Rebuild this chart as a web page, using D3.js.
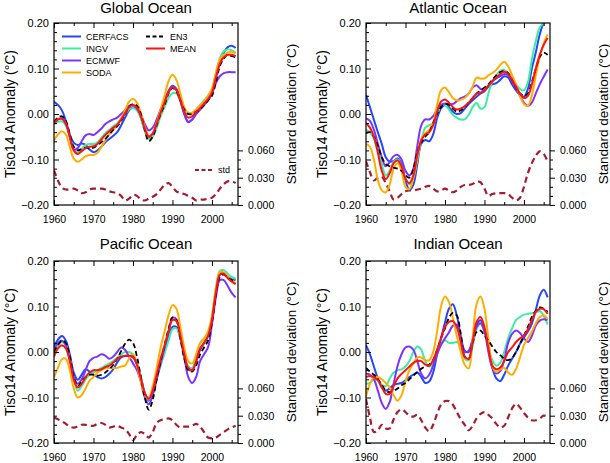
<!DOCTYPE html>
<html><head><meta charset="utf-8">
<script src="https://cdn.jsdelivr.net/npm/d3@7"></script>
<style>
body{margin:0;background:#fff}
svg{display:block}
text{font-family:"Liberation Sans",Arial,Helvetica,sans-serif;fill:#000}
</style>
</head><body><svg id="c" width="610" height="463"></svg>
<script>
// ---------------- DATA ----------------
const years = [1960,1961,1962,1963,1964,1965,1966,1967,1968,1969,1970,1971,1972,1973,1974,1975,1976,1977,1978,1979,
  1980,1981,1982,1983,1984,1985,1986,1987,1988,1989,1990,1991,1992,1993,1994,1995,1996,1997,1998,1999,
  2000,2001,2002,2003,2004,2005,2006];
const seriesNames = ["CERFACS","INGV","ECMWF","SODA","EN3","MEAN"];
const panelTitles = ["Global Ocean","Atlantic Ocean","Pacific Ocean","Indian Ocean"];
const anomalyTicks = [-0.2,-0.1,0.0,0.1,0.2];
const anomalyMinorTicks = [-0.18,-0.16,-0.14,-0.12,-0.08,-0.06,-0.04,-0.02,0.02,0.04,0.06,0.08,0.12,0.14,0.16,0.18];
const stdTicks = [0.0,0.03,0.06];
const stdMinorTicks = [0.01,0.02,0.04,0.05];
const yearTicks = [1960,1970,1980,1990,2000];
const yearMinorTicks = [1965,1975,1985,1995,2005];
const yLabel = "Tiso14 Anomaly (°C)";
const stdLabel = "Standard deviation (°C)";

// Global Ocean
const globalCERFACS = [0.027,0.02,0.008,-0.015,-0.045,-0.063,-0.068,-0.065,-0.068,-0.078,-0.084,-0.08,-0.072,-0.062,-0.055,-0.048,-0.04,-0.025,-0.008,0.008,
  0.015,0.01,-0.008,-0.035,-0.05,-0.043,-0.02,0.005,0.028,0.05,0.062,0.055,0.03,0.0,-0.017,-0.012,0.0,0.01,0.02,0.03,
  0.045,0.08,0.115,0.135,0.147,0.15,0.145];
const globalINGV = [-0.022,-0.017,-0.016,-0.025,-0.05,-0.078,-0.085,-0.077,-0.068,-0.066,-0.066,-0.062,-0.052,-0.042,-0.035,-0.027,-0.02,-0.01,0.0,0.01,
  0.013,0.008,-0.01,-0.038,-0.055,-0.05,-0.03,-0.005,0.015,0.035,0.046,0.045,0.028,0.01,0.0,0.002,0.01,0.02,0.03,0.04,
  0.055,0.09,0.122,0.138,0.142,0.14,0.135];
const globalECMWF = [-0.022,-0.012,-0.01,-0.022,-0.05,-0.078,-0.075,-0.06,-0.047,-0.044,-0.046,-0.04,-0.032,-0.022,-0.016,-0.012,-0.008,0.0,0.008,0.018,
  0.02,0.012,-0.002,-0.022,-0.036,-0.03,-0.012,0.01,0.03,0.05,0.06,0.055,0.03,0.0,-0.018,-0.012,0.0,0.01,0.02,0.03,
  0.045,0.068,0.083,0.09,0.092,0.092,0.092];
const globalSODA = [-0.058,-0.045,-0.038,-0.045,-0.072,-0.098,-0.105,-0.1,-0.093,-0.09,-0.09,-0.085,-0.072,-0.058,-0.045,-0.035,-0.025,-0.01,0.008,0.027,
  0.033,0.025,0.002,-0.028,-0.048,-0.043,-0.02,0.01,0.04,0.072,0.086,0.075,0.045,0.015,0.003,0.003,0.01,0.018,0.028,0.04,
  0.055,0.09,0.12,0.13,0.135,0.137,0.133];
const globalEN3 = [-0.018,-0.008,-0.005,-0.015,-0.045,-0.072,-0.08,-0.077,-0.074,-0.076,-0.074,-0.068,-0.062,-0.055,-0.045,-0.035,-0.027,-0.015,0.0,0.015,
  0.022,0.018,0.0,-0.035,-0.06,-0.05,-0.025,0.0,0.02,0.045,0.057,0.05,0.03,0.01,0.0,0.0,0.005,0.01,0.02,0.03,
  0.04,0.07,0.105,0.122,0.13,0.127,0.125];
const globalMEAN = [-0.02,-0.012,-0.01,-0.02,-0.05,-0.08,-0.088,-0.082,-0.075,-0.072,-0.071,-0.066,-0.056,-0.046,-0.038,-0.03,-0.024,-0.012,0.002,0.015,
  0.02,0.014,-0.005,-0.032,-0.05,-0.043,-0.022,0.003,0.025,0.047,0.058,0.052,0.03,0.005,-0.008,-0.005,0.005,0.013,0.023,0.033,
  0.047,0.08,0.11,0.125,0.13,0.13,0.127];
const globalSTD = [0.038,0.027,0.019,0.017,0.017,0.018,0.016,0.013,0.014,0.017,0.018,0.018,0.018,0.017,0.015,0.014,0.013,0.01,0.005,0.007,
  0.011,0.01,0.006,0.005,0.007,0.009,0.012,0.017,0.022,0.024,0.02,0.015,0.013,0.012,0.01,0.008,0.005,0.006,0.006,0.007,
  0.008,0.012,0.018,0.023,0.026,0.026,0.024];

// Atlantic Ocean
const atlanticCERFACS = [0.042,0.015,-0.013,-0.04,-0.066,-0.095,-0.105,-0.103,-0.098,-0.11,-0.145,-0.167,-0.155,-0.11,-0.065,-0.057,-0.06,-0.045,-0.01,0.012,
  0.02,0.015,0.005,0.0,0.002,0.012,0.022,0.03,0.038,0.045,0.05,0.06,0.065,0.068,0.075,0.083,0.08,0.065,0.052,0.042,
  0.038,0.055,0.1,0.135,0.175,0.2,0.21];
const atlanticINGV = [-0.035,-0.04,-0.055,-0.08,-0.11,-0.135,-0.125,-0.105,-0.1,-0.115,-0.14,-0.155,-0.14,-0.1,-0.06,-0.03,-0.025,-0.02,0.0,0.018,
  0.02,0.01,-0.002,-0.008,-0.012,-0.012,-0.002,0.015,0.024,0.012,0.015,0.045,0.072,0.085,0.095,0.097,0.09,0.078,0.065,0.055,
  0.052,0.07,0.12,0.16,0.19,0.2,0.205];
const atlanticECMWF = [-0.01,-0.015,-0.035,-0.065,-0.095,-0.115,-0.105,-0.093,-0.09,-0.1,-0.125,-0.135,-0.12,-0.07,-0.025,-0.012,-0.012,-0.005,0.01,0.02,
  0.023,0.022,0.022,0.028,0.035,0.038,0.045,0.058,0.063,0.055,0.052,0.062,0.072,0.078,0.083,0.088,0.085,0.072,0.055,0.04,
  0.025,0.018,0.025,0.045,0.065,0.082,0.098];
const atlanticSODA = [-0.066,-0.072,-0.1,-0.145,-0.168,-0.172,-0.155,-0.12,-0.108,-0.125,-0.16,-0.165,-0.14,-0.095,-0.055,-0.042,-0.035,-0.02,0.02,0.052,
  0.058,0.048,0.035,0.03,0.031,0.035,0.045,0.06,0.08,0.078,0.078,0.085,0.09,0.097,0.108,0.115,0.105,0.085,0.065,0.04,
  0.022,0.018,0.04,0.085,0.125,0.155,0.175];
const atlanticEN3 = [-0.042,-0.04,-0.05,-0.07,-0.095,-0.11,-0.115,-0.118,-0.12,-0.125,-0.135,-0.14,-0.12,-0.085,-0.062,-0.05,-0.04,-0.02,0.0,0.015,
  0.022,0.02,0.012,0.005,0.008,0.015,0.025,0.035,0.045,0.052,0.058,0.065,0.075,0.085,0.092,0.095,0.09,0.075,0.058,0.045,
  0.04,0.045,0.07,0.1,0.125,0.135,0.13];
const atlanticMEAN = [-0.02,-0.03,-0.05,-0.085,-0.125,-0.143,-0.13,-0.108,-0.102,-0.115,-0.143,-0.152,-0.135,-0.09,-0.058,-0.045,-0.04,-0.025,0.005,0.027,
  0.032,0.025,0.015,0.01,0.012,0.017,0.025,0.035,0.045,0.047,0.052,0.063,0.072,0.08,0.088,0.093,0.088,0.075,0.06,0.045,
  0.035,0.04,0.065,0.1,0.13,0.152,0.167];
const atlanticSTD = [0.048,0.036,0.027,0.03,0.031,0.024,0.015,0.006,0.008,0.012,0.015,0.016,0.016,0.017,0.018,0.02,0.021,0.018,0.015,0.016,
  0.018,0.016,0.014,0.016,0.02,0.022,0.022,0.023,0.026,0.025,0.018,0.01,0.012,0.013,0.013,0.013,0.012,0.008,0.005,0.008,
  0.02,0.035,0.046,0.054,0.059,0.056,0.048];

// Pacific Ocean
const pacificCERFACS = [0.012,0.027,0.035,0.025,-0.005,-0.045,-0.061,-0.05,-0.038,-0.043,-0.05,-0.055,-0.058,-0.055,-0.048,-0.038,-0.023,-0.012,-0.009,-0.009,
  -0.012,-0.027,-0.055,-0.09,-0.107,-0.09,-0.055,-0.025,0.005,0.035,0.055,0.055,0.03,-0.01,-0.038,-0.04,-0.02,0.005,0.02,0.035,
  0.07,0.13,0.17,0.172,0.165,0.16,0.158];
const pacificINGV = [0.0,0.015,0.022,0.015,-0.015,-0.06,-0.085,-0.075,-0.06,-0.05,-0.045,-0.04,-0.035,-0.03,-0.025,-0.02,-0.012,-0.005,0.0,0.0,
  -0.005,-0.025,-0.055,-0.09,-0.105,-0.09,-0.06,-0.03,-0.003,0.025,0.05,0.052,0.03,-0.005,-0.032,-0.035,-0.01,0.018,0.027,0.04,
  0.075,0.14,0.178,0.18,0.172,0.165,0.161];
const pacificECMWF = [0.005,0.02,0.025,0.015,-0.015,-0.055,-0.07,-0.06,-0.04,-0.02,-0.013,-0.01,-0.005,-0.008,-0.015,-0.01,0.0,0.01,0.005,-0.01,
  -0.025,-0.04,-0.065,-0.1,-0.115,-0.095,-0.06,-0.025,0.01,0.045,0.075,0.072,0.035,-0.01,-0.055,-0.068,-0.055,-0.02,-0.005,0.01,
  0.06,0.12,0.158,0.158,0.145,0.13,0.12];
const pacificSODA = [-0.055,-0.035,-0.016,-0.015,-0.04,-0.08,-0.1,-0.095,-0.08,-0.063,-0.055,-0.045,-0.04,-0.035,-0.035,-0.035,-0.035,-0.032,-0.03,-0.015,
  -0.005,-0.03,-0.065,-0.095,-0.1,-0.075,-0.035,0.01,0.045,0.08,0.103,0.095,0.055,0.01,-0.02,-0.025,-0.005,0.02,0.03,0.045,
  0.08,0.14,0.175,0.175,0.165,0.158,0.152];
const pacificEN3 = [0.0,0.015,0.025,0.02,-0.01,-0.055,-0.075,-0.065,-0.055,-0.05,-0.05,-0.052,-0.05,-0.045,-0.038,-0.028,-0.015,0.002,0.018,0.027,
  0.02,-0.01,-0.055,-0.1,-0.127,-0.105,-0.06,-0.02,0.015,0.05,0.076,0.07,0.03,-0.015,-0.04,-0.043,-0.03,-0.005,0.01,0.025,
  0.065,0.125,0.165,0.17,0.163,0.158,0.155];
const pacificMEAN = [-0.01,0.008,0.015,0.008,-0.02,-0.06,-0.078,-0.07,-0.055,-0.045,-0.04,-0.04,-0.038,-0.033,-0.03,-0.023,-0.015,-0.01,-0.008,-0.008,
  -0.01,-0.028,-0.058,-0.09,-0.103,-0.085,-0.05,-0.015,0.015,0.045,0.07,0.068,0.035,-0.005,-0.035,-0.04,-0.02,0.008,0.02,0.035,
  0.07,0.13,0.17,0.172,0.162,0.155,0.149];
const pacificSTD = [0.028,0.026,0.024,0.021,0.018,0.017,0.018,0.02,0.02,0.019,0.019,0.021,0.022,0.02,0.017,0.018,0.019,0.017,0.015,0.01,
  0.003,0.009,0.012,0.01,0.006,0.012,0.022,0.025,0.026,0.027,0.025,0.02,0.017,0.018,0.018,0.019,0.021,0.018,0.012,0.006,
  0.005,0.006,0.009,0.012,0.015,0.017,0.019];

// Indian Ocean
const indianCERFACS = [0.015,-0.005,-0.032,-0.058,-0.078,-0.085,-0.08,-0.072,-0.07,-0.068,-0.062,-0.055,-0.05,-0.045,-0.055,-0.068,-0.065,-0.045,-0.005,0.03,
  0.065,0.095,0.105,0.08,0.035,0.003,0.0,0.025,0.06,0.07,0.05,0.01,-0.035,-0.058,-0.064,-0.05,-0.03,-0.015,0.0,0.018,
  0.032,0.045,0.062,0.092,0.124,0.137,0.12];
const indianINGV = [-0.07,-0.068,-0.06,-0.062,-0.072,-0.075,-0.058,-0.045,-0.04,-0.038,-0.032,-0.02,0.0,0.012,0.005,-0.02,-0.032,-0.025,0.0,0.018,
  0.026,0.02,0.02,0.022,0.012,-0.015,-0.018,0.012,0.05,0.062,0.045,0.012,-0.018,-0.03,-0.024,0.0,0.03,0.052,0.07,0.077,
  0.082,0.084,0.085,0.087,0.09,0.08,0.06];
const indianECMWF = [-0.048,-0.05,-0.06,-0.085,-0.112,-0.125,-0.11,-0.07,-0.03,-0.005,0.01,0.012,0.005,-0.02,-0.048,-0.058,-0.05,-0.03,-0.005,0.015,
  0.03,0.043,0.058,0.06,0.03,0.0,0.003,0.028,0.055,0.063,0.045,0.0,-0.035,-0.047,-0.042,-0.018,0.02,0.04,0.047,0.042,
  0.03,0.022,0.035,0.058,0.069,0.072,0.07];
const indianSODA = [-0.098,-0.07,-0.055,-0.055,-0.06,-0.068,-0.078,-0.095,-0.107,-0.095,-0.065,-0.04,-0.025,-0.012,-0.012,-0.018,-0.018,0.0,0.045,0.1,
  0.122,0.11,0.075,0.035,0.0,-0.028,-0.036,0.03,0.105,0.122,0.095,0.03,-0.03,-0.044,-0.038,-0.035,-0.045,-0.05,-0.037,-0.012,
  0.015,0.03,0.045,0.063,0.077,0.08,0.073];
const indianEN3 = [-0.035,-0.043,-0.05,-0.06,-0.072,-0.085,-0.088,-0.085,-0.08,-0.073,-0.068,-0.06,-0.052,-0.044,-0.037,-0.032,-0.028,-0.018,0.005,0.03,
  0.052,0.075,0.086,0.08,0.04,-0.01,-0.015,0.02,0.044,0.047,0.036,0.025,0.012,0.0,-0.007,-0.015,-0.018,-0.013,0.0,0.018,
  0.036,0.055,0.077,0.09,0.098,0.095,0.088];
const indianMEAN = [-0.055,-0.053,-0.055,-0.062,-0.077,-0.092,-0.092,-0.075,-0.058,-0.048,-0.04,-0.032,-0.024,-0.02,-0.02,-0.028,-0.03,-0.018,0.005,0.03,
  0.055,0.066,0.068,0.055,0.022,-0.01,-0.015,0.022,0.066,0.077,0.055,0.008,-0.03,-0.038,-0.034,-0.02,0.0,0.01,0.022,0.03,
  0.036,0.05,0.07,0.088,0.095,0.094,0.084];
const indianSTD = [0.048,0.028,0.012,0.014,0.02,0.016,0.016,0.026,0.034,0.037,0.034,0.03,0.029,0.031,0.025,0.017,0.013,0.02,0.032,0.042,
  0.046,0.046,0.042,0.034,0.026,0.02,0.014,0.019,0.027,0.032,0.034,0.031,0.027,0.021,0.017,0.019,0.028,0.038,0.043,0.039,
  0.033,0.028,0.025,0.025,0.027,0.03,0.029];

// ---------------- STYLE / LAYOUT ----------------
const colors = {CERFACS:"#2346ff", INGV:"#3ceea0", ECMWF:"#7a34ff", SODA:"#ffae00", EN3:"#000000", MEAN:"#ff1212"};
const stdColor = "#a51c30";
const boxes = [{left:54, top:23},{left:366, top:23},{left:54, top:261},{left:366, top:261}];
const titleY = [13, 13, 249, 249];
const W = 184, H = 182;

const panels = [
  {title:panelTitles[0], std:globalSTD, series:{CERFACS:globalCERFACS, INGV:globalINGV, ECMWF:globalECMWF, SODA:globalSODA, EN3:globalEN3, MEAN:globalMEAN}},
  {title:panelTitles[1], std:atlanticSTD, series:{CERFACS:atlanticCERFACS, INGV:atlanticINGV, ECMWF:atlanticECMWF, SODA:atlanticSODA, EN3:atlanticEN3, MEAN:atlanticMEAN}},
  {title:panelTitles[2], std:pacificSTD, series:{CERFACS:pacificCERFACS, INGV:pacificINGV, ECMWF:pacificECMWF, SODA:pacificSODA, EN3:pacificEN3, MEAN:pacificMEAN}},
  {title:panelTitles[3], std:indianSTD, series:{CERFACS:indianCERFACS, INGV:indianINGV, ECMWF:indianECMWF, SODA:indianSODA, EN3:indianEN3, MEAN:indianMEAN}}
];

const svg = d3.select("#c");
svg.append("rect").attr("width",610).attr("height",463).attr("fill","#fff");

panels.forEach((p, i) => {
  const L = boxes[i].left, T = boxes[i].top;
  const x = d3.scaleLinear().domain([1960, 2006.6]).range([L, L + W]);
  const y = d3.scaleLinear().domain([-0.2, 0.2]).range([T + H, T]);
  const ys = d3.scaleLinear().domain([0, 0.2]).range([T + H, T]);
  const g = svg.append("g");

  const clipId = "clip" + i;
  g.append("clipPath").attr("id", clipId).append("rect")
    .attr("x", L).attr("y", T).attr("width", W).attr("height", H);

  const plot = g.append("g").attr("clip-path", `url(#${clipId})`);

  // std line
  const stdLine = d3.line().x((d, k) => x(years[k])).y(d => ys(d)).curve(d3.curveCatmullRom.alpha(0.5));
  plot.append("path").datum(p.std).attr("d", stdLine)
    .attr("fill","none").attr("stroke", stdColor).attr("stroke-width", 2.2)
    .attr("stroke-dasharray","6,4");

  const line = d3.line().x((d, k) => x(years[k])).y(d => y(d)).curve(d3.curveCatmullRom.alpha(0.5));
  seriesNames.forEach(name => {
    plot.append("path").datum(p.series[name]).attr("d", line)
      .attr("fill","none").attr("stroke", colors[name])
      .attr("stroke-width", name === "EN3" ? 1.8 : 2)
      .attr("stroke-dasharray", name === "EN3" ? "5,3" : null)
      .attr("stroke-linejoin","round");
  });

  // axes
  const styleAxis = sel => { sel.select(".domain").remove(); sel.selectAll("line").attr("stroke","#000"); };
  const fontAxis = (sel, fs) => sel.selectAll("text").attr("font-size", fs).attr("font-family", '"Liberation Sans",Arial,sans-serif').attr("fill","#000");

  g.append("g").attr("transform",`translate(${L},0)`)
    .call(d3.axisLeft(y).tickValues(anomalyTicks).tickSizeInner(-5).tickSizeOuter(0).tickPadding(5).tickFormat(d3.format(".2f")))
    .call(styleAxis).call(s => fontAxis(s, 11));
  g.append("g").attr("transform",`translate(${L},0)`)
    .call(d3.axisLeft(y).tickValues(anomalyMinorTicks).tickSizeInner(-3).tickSizeOuter(0).tickFormat(""))
    .call(styleAxis);

  g.append("g").attr("transform",`translate(0,${T + H})`)
    .call(d3.axisBottom(x).tickValues(yearTicks).tickSizeInner(-5).tickSizeOuter(0).tickPadding(11).tickFormat(d3.format("d")))
    .call(styleAxis).call(s => fontAxis(s, 10.5));
  g.append("g").attr("transform",`translate(0,${T + H})`)
    .call(d3.axisBottom(x).tickValues(yearMinorTicks).tickSizeInner(-3).tickSizeOuter(0).tickFormat(""))
    .call(styleAxis);

  g.append("g").attr("transform",`translate(0,${T})`)
    .call(d3.axisTop(x).tickValues(yearTicks).tickSizeInner(-5).tickSizeOuter(0).tickFormat(""))
    .call(styleAxis);
  g.append("g").attr("transform",`translate(0,${T})`)
    .call(d3.axisTop(x).tickValues(yearMinorTicks).tickSizeInner(-3).tickSizeOuter(0).tickFormat(""))
    .call(styleAxis);

  g.append("g").attr("transform",`translate(${L + W},0)`)
    .call(d3.axisRight(ys).tickValues(stdTicks).tickSizeInner(5).tickSizeOuter(0).tickPadding(5).tickFormat(d3.format(".3f")))
    .call(styleAxis).call(s => fontAxis(s, 10.5));
  g.append("g").attr("transform",`translate(${L + W},0)`)
    .call(d3.axisRight(ys).tickValues(stdMinorTicks).tickSizeInner(3).tickSizeOuter(0).tickFormat(""))
    .call(styleAxis);

  // border
  g.append("rect").attr("x", L).attr("y", T).attr("width", W).attr("height", H)
    .attr("fill","none").attr("stroke","#000").attr("stroke-width",1.2);

  // titles
  g.append("text").attr("x", L + W / 2).attr("y", titleY[i]).attr("text-anchor","middle")
    .attr("font-size", 15).text(p.title);
  g.append("text").attr("transform",`translate(${L - 39},${T + H / 2}) rotate(-90)`)
    .attr("text-anchor","middle").attr("font-size", 14).text(yLabel);
  g.append("text").attr("transform",`translate(${L + W + 58},${T + H / 2}) rotate(-90)`)
    .attr("text-anchor","middle").attr("font-size", 13.5).text(stdLabel);

  // legend (first panel only)
  if (i === 0) {
    const leg = g.append("g");
    const cols = [{names:["CERFACS","INGV","ECMWF","SODA"], x0:L + 8}, {names:["EN3","MEAN"], x0:L + 92}];
    cols.forEach(c => {
      c.names.forEach((n, k) => {
        const yy = T + 13.5 + k * 12;
        leg.append("line").attr("x1", c.x0).attr("x2", c.x0 + 19).attr("y1", yy).attr("y2", yy)
          .attr("stroke", colors[n]).attr("stroke-width", 2)
          .attr("stroke-dasharray", n === "EN3" ? "4,2.5" : null);
        leg.append("text").attr("x", c.x0 + 24).attr("y", yy + 3.2).attr("font-size", 9).text(n);
      });
    });
    const sy = T + 147;
    leg.append("line").attr("x1", L + 141).attr("x2", L + 160).attr("y1", sy).attr("y2", sy)
      .attr("stroke", stdColor).attr("stroke-width", 2).attr("stroke-dasharray","4,2.5");
    leg.append("text").attr("x", L + 164).attr("y", sy + 3.2).attr("font-size", 9).text("std");
  }
});
</script>
</body></html>
